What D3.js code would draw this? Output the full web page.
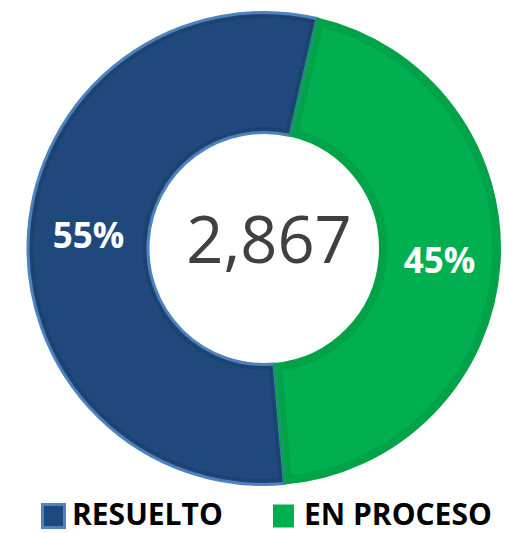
<!DOCTYPE html>
<html>
<head>
<meta charset="utf-8">
<script src="https://cdn.jsdelivr.net/npm/d3@7"></script>
<style>
  body { margin: 0; background: #fff; }
  svg { display: block; }
</style>
</head>
<body>
<script>
// Data
const categories = ["RESUELTO", "EN PROCESO"];
const values = [1577, 1290];
const percentLabels = ["55%", "45%"];
const totalLabel = "2,867";

const fills = ["#1f497d", "#00b050"];
const edges = ["#4f81bd", "#00a247"];

const width = 505, height = 533;
const cx = 264, cy = 248.5;
const outerR = 236, innerR = 116;

const svg = d3.select("body").append("svg")
    .attr("width", width)
    .attr("height", height);

const g = svg.append("g")
    .attr("transform", "translate(" + cx + "," + cy + ")");

// blue slice starts at the bottom and goes round clockwise
const startAngle = 175 * Math.PI / 180;
const pie = d3.pie()
    .sort(null)
    .startAngle(startAngle)
    .endAngle(startAngle + 2 * Math.PI);

const arcs = pie(values).map((d, i) => ({ ...d, i: i }));

const arc = d3.arc().innerRadius(innerR).outerRadius(outerR);

// Slices
g.selectAll("path.slice")
    .data(arcs)
    .enter().append("path")
    .attr("class", "slice")
    .attr("d", arc)
    .attr("fill", d => fills[d.i]);

// inner darker border (inset)
const inset = 4;
const insetArc = d3.arc()
    .innerRadius(innerR + inset)
    .outerRadius(outerR - inset)
    .padRadius(outerR);
g.selectAll("path.inset")
    .data(arcs)
    .enter().append("path")
    .attr("class", "inset")
    .attr("d", d => insetArc({ ...d, padAngle: 0.035 }))
    .attr("fill", "none")
    .attr("stroke", (d, i) => i === 0 ? "#1c4370" : "#00a347")
    .attr("stroke-width", (d, i) => i === 0 ? 3 : 7);

// outer edge
g.selectAll("path.edge")
    .data(arcs)
    .enter().append("path")
    .attr("class", "edge")
    .attr("d", arc)
    .attr("fill", "none")
    .attr("stroke", d => edges[d.i])
    .attr("stroke-width", d => d.i === 0 ? 3 : 2)
    .attr("stroke-linejoin", "round");

// Percent labels
g.selectAll("text.pct")
    .data(arcs)
    .enter().append("text")
    .attr("class", "pct")
    .attr("transform", d => "translate(" + arc.centroid(d) + ")")
    .attr("text-anchor", "middle")
    .attr("dy", "0.35em")
    .style("font-family", "'Open Sans', sans-serif")
    .style("font-weight", "bold")
    .style("font-size", "35px")
    .style("fill", "#fff")
    .text(d => percentLabels[d.i]);

// Total in the middle
g.append("text")
    .attr("x", 5)
    .attr("y", -8)
    .attr("text-anchor", "middle")
    .attr("dy", "0.35em")
    .style("font-family", "'Open Sans', sans-serif")
    .style("font-size", "65px")
    .style("fill", "#404040")
    .text(totalLabel);

// Legend
const legendX = [41, 273];
const legend = svg.append("g");
categories.forEach((c, i) => {
    legend.append("rect")
        .attr("x", legendX[i] + (i === 0 ? 1.5 : 0))
        .attr("y", 504.5)
        .attr("width", i === 0 ? 22 : 21)
        .attr("height", 23)
        .attr("fill", fills[i])
        .attr("stroke", i === 0 ? edges[0] : "none")
        .attr("stroke-width", 3);
    legend.append("text")
        .attr("x", legendX[i] + 31)
        .attr("y", 525)
        .style("font-family", "'Open Sans', sans-serif")
        .style("font-weight", "bold")
        .style("font-size", "30px")
        .style("fill", "#000")
        .text(c);
});
</script>
</body>
</html>
